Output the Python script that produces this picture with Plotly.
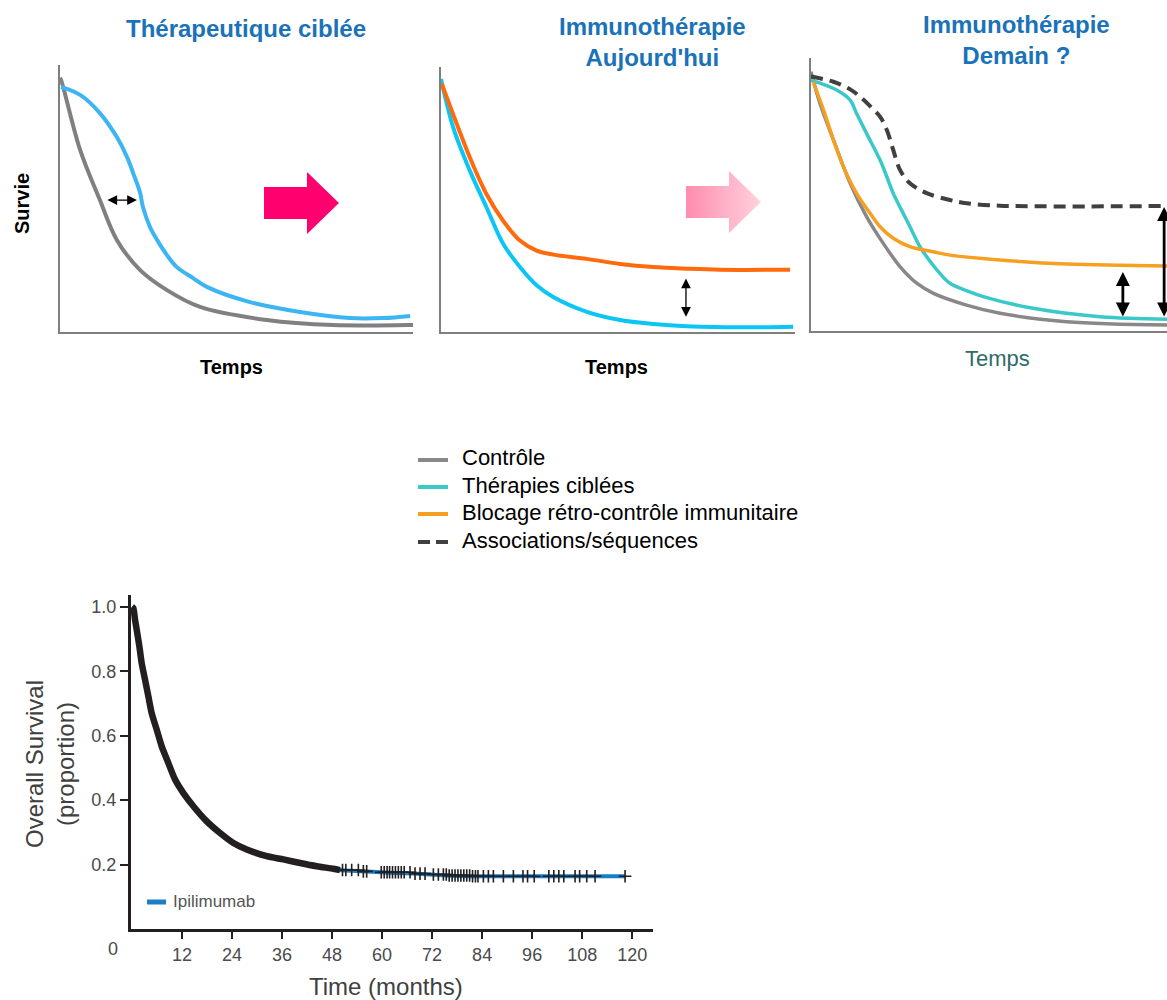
import numpy as np
import plotly.graph_objects as go

W, H = 1167, 1000

# ---------------- data ----------------
# Panel 1 : Thérapeutique ciblée  (time 0..10, survival 0..1)
p1_ctrl_t = [0.0, 0.03, 0.57, 1.13, 1.61, 2.27, 3.03, 3.97, 5.86, 7.73, 9.86, 10.0]
p1_ctrl_s = [0.951, 0.944, 0.682, 0.494, 0.345, 0.232, 0.157, 0.094, 0.045, 0.026, 0.026, 0.026]
p1_tgt_t = [0.03, 0.57, 1.13, 1.61, 1.90, 2.07, 2.27, 2.35, 2.55, 2.75, 3.03, 3.31, 3.77, 4.16, 5.38, 6.80, 8.22, 9.15, 9.92]
p1_tgt_s = [0.918, 0.888, 0.820, 0.730, 0.655, 0.596, 0.521, 0.468, 0.393, 0.345, 0.288, 0.243, 0.202, 0.169, 0.112, 0.075, 0.052, 0.052, 0.060]

# Panel 2 : Immunothérapie aujourd'hui
p2_ici_t = [0.02, 0.35, 0.82, 1.29, 1.76, 2.23, 2.70, 3.17, 4.12, 5.06, 6.00, 6.94, 7.88, 9.86]
p2_ici_s = [0.937, 0.819, 0.657, 0.519, 0.419, 0.345, 0.307, 0.292, 0.276, 0.257, 0.245, 0.239, 0.235, 0.235]
p2_ctl_t = [0.0, 0.35, 0.82, 1.29, 1.76, 2.23, 2.70, 3.17, 4.12, 5.06, 6.00, 6.94, 8.82, 9.95]
p2_ctl_s = [0.955, 0.769, 0.607, 0.469, 0.332, 0.245, 0.176, 0.132, 0.076, 0.045, 0.030, 0.022, 0.018, 0.020]

# Panel 3 : Immunothérapie demain ?
p3_ctrl_t = [0.0, 0.25, 0.63, 1.10, 1.56, 2.03, 2.50, 2.97, 3.44, 4.37, 5.31, 7.18, 10.0]
p3_ctrl_s = [0.950, 0.834, 0.700, 0.541, 0.419, 0.321, 0.236, 0.175, 0.138, 0.095, 0.065, 0.034, 0.022]
p3_tgt_t = [0.0, 0.72, 1.10, 1.28, 1.56, 1.94, 2.13, 2.31, 2.59, 2.78, 3.06, 3.25, 3.62, 3.90, 4.37, 4.84, 6.24, 8.12, 10.0]
p3_tgt_s = [0.919, 0.883, 0.846, 0.797, 0.724, 0.626, 0.565, 0.504, 0.431, 0.382, 0.309, 0.272, 0.211, 0.175, 0.148, 0.126, 0.083, 0.052, 0.043]
p3_ici_t = [0.06, 0.35, 0.63, 0.91, 1.28, 1.66, 1.94, 2.31, 2.78, 3.44, 3.90, 5.31, 7.18, 10.0]
p3_ici_s = [0.913, 0.810, 0.700, 0.602, 0.504, 0.431, 0.382, 0.340, 0.309, 0.290, 0.278, 0.260, 0.245, 0.238]
p3_comb_t = [0.0, 0.63, 1.10, 1.38, 1.66, 1.94, 2.13, 2.31, 2.50, 2.78, 3.25, 3.90, 4.37, 5.31, 10.0]
p3_comb_s = [0.932, 0.913, 0.885, 0.858, 0.824, 0.785, 0.736, 0.663, 0.590, 0.541, 0.505, 0.480, 0.468, 0.459, 0.458]

legend_labels = ["Contrôle", "Thérapies ciblées", "Blocage rétro-contrôle immunitaire", "Associations/séquences"]

# Bottom : Ipilimumab Kaplan-Meier
km_t = [0.0, 0.32, 0.72, 1.12, 1.76, 2.32, 3.12, 3.92, 4.72, 5.92, 7.12, 8.72, 10.32, 12.32, 14.72,
        17.92, 21.12, 24.32, 27.52, 32.32, 36.32, 40.32, 44.32, 48.32, 49.9, 55.5, 59.5, 67.5, 71.5,
        75.5, 81.1, 118.3]
km_s = [1.0, 0.996, 0.960, 0.929, 0.877, 0.825, 0.774, 0.722, 0.670, 0.619, 0.567, 0.515, 0.464, 0.422, 0.381,
        0.334, 0.298, 0.267, 0.247, 0.226, 0.216, 0.205, 0.195, 0.187, 0.183, 0.179, 0.176, 0.172, 0.169,
        0.166, 0.164, 0.164]
censor_t = [50.5, 51.3, 52.7, 54.3, 55.5, 56.3, 59.8, 60.5, 61.2, 61.8, 62.5, 63.2, 63.9, 64.6, 65.3,
            66.7, 67.9, 69.1, 70.3, 72.3, 73.5, 74.7, 75.4, 76.1, 76.8, 77.5, 78.2, 78.9, 79.6, 80.3,
            81.0, 81.7, 82.4, 83.0, 84.3, 85.5, 86.7, 89.1, 91.5, 93.8, 94.9, 96.5, 100.0, 101.2, 102.4,
            103.6, 106.3, 107.4, 109.1, 111.1, 118.3]
x_ticks = [12, 24, 36, 48, 60, 72, 84, 96, 108, 120]
y_ticks = [0.2, 0.4, 0.6, 0.8, 1.0]

# ---------------- styling ----------------
FONT = "Liberation Sans, Arial, sans-serif"
TITLE_BLUE = "#1a72b8"
GRAY = "#808080"
KM_BLUE = "#1b7dc3"
KM_BLACK = "#231f20"


def px_x(p):
    return p / W


def px_y(p):
    return 1 - p / H


fig = go.Figure()

# Panel 1
fig.add_trace(go.Scatter(x=p1_ctrl_t, y=p1_ctrl_s, mode="lines", line=dict(color=GRAY, width=4, shape="spline"),
                         xaxis="x", yaxis="y", showlegend=False, hoverinfo="skip"))
fig.add_trace(go.Scatter(x=p1_tgt_t, y=p1_tgt_s, mode="lines", line=dict(color="#3db5f3", width=4, shape="spline"),
                         xaxis="x", yaxis="y", showlegend=False, hoverinfo="skip"))
# Panel 2
fig.add_trace(go.Scatter(x=p2_ctl_t, y=p2_ctl_s, mode="lines", line=dict(color="#0bc6f5", width=4, shape="spline"),
                         xaxis="x2", yaxis="y2", showlegend=False, hoverinfo="skip"))
fig.add_trace(go.Scatter(x=p2_ici_t, y=p2_ici_s, mode="lines", line=dict(color="#ff6a0d", width=4, shape="spline"),
                         xaxis="x2", yaxis="y2", showlegend=False, hoverinfo="skip"))
# Panel 3
fig.add_trace(go.Scatter(x=p3_ctrl_t, y=p3_ctrl_s, mode="lines", line=dict(color="#888888", width=3.5, shape="spline"),
                         xaxis="x3", yaxis="y3", showlegend=False, hoverinfo="skip"))
fig.add_trace(go.Scatter(x=p3_tgt_t, y=p3_tgt_s, mode="lines", line=dict(color="#3ac8c8", width=3.5, shape="spline"),
                         xaxis="x3", yaxis="y3", showlegend=False, hoverinfo="skip"))
fig.add_trace(go.Scatter(x=p3_ici_t, y=p3_ici_s, mode="lines", line=dict(color="#f5a020", width=3.5, shape="spline"),
                         xaxis="x3", yaxis="y3", showlegend=False, hoverinfo="skip"))
fig.add_trace(go.Scatter(x=p3_comb_t, y=p3_comb_s, mode="lines",
                         line=dict(color="#404040", width=4, shape="spline", dash="12px,7px"),
                         xaxis="x3", yaxis="y3", showlegend=False, hoverinfo="skip"))

# Bottom KM
fig.add_trace(go.Scatter(x=km_t, y=km_s, mode="lines", line=dict(color=KM_BLUE, width=4, shape="spline", smoothing=0.6),
                         xaxis="x4", yaxis="y4", showlegend=False, hoverinfo="skip"))
band_t = [t for t in km_t if t <= 49.9]
band_s = km_s[:len(band_t)]
fig.add_trace(go.Scatter(x=band_t, y=band_s, mode="lines", line=dict(color=KM_BLACK, width=6.5, shape="spline", smoothing=0.6),
                         xaxis="x4", yaxis="y4", showlegend=False, hoverinfo="skip"))
km_t_arr = np.array(km_t)
km_s_arr = np.array(km_s)
idx = np.searchsorted(km_t_arr, np.array(censor_t), side="right") - 1
censor_s = km_s_arr[idx]
fig.add_trace(go.Scatter(x=censor_t, y=censor_s, mode="markers",
                         marker=dict(symbol="cross-thin", size=9, line=dict(color=KM_BLACK, width=1.6)),
                         xaxis="x4", yaxis="y4", showlegend=False, hoverinfo="skip"))

# Pink block arrows on a full-page overlay axis (pixel units)
arrow1_x = [264, 307, 307, 339, 307, 307, 264, 264]
arrow1_y = [187, 187, 172, 203, 234, 219, 219, 187]
arrow2_x = [686, 729, 729, 761, 729, 729, 686, 686]
arrow2_y = [186, 186, 171, 202, 233, 218, 218, 186]
fig.add_trace(go.Scatter(x=arrow1_x, y=arrow1_y, mode="lines", fill="toself", fillcolor="#ff006e",
                         line=dict(width=0, color="#ff006e"), xaxis="x5", yaxis="y5",
                         showlegend=False, hoverinfo="skip"))
fig.add_trace(go.Scatter(x=arrow2_x, y=arrow2_y, mode="lines", fill="toself",
                         fillgradient=dict(type="horizontal", colorscale=[[0, "#ff8caf"], [1, "#ffd2dd"]]),
                         line=dict(width=0, color="rgba(0,0,0,0)"), xaxis="x5", yaxis="y5",
                         showlegend=False, hoverinfo="skip"))

top_axis = dict(showline=True, linecolor="#7f7f7f", linewidth=1.5, showticklabels=False, ticks="",
                showgrid=False, zeroline=False, fixedrange=True)

fig.update_layout(
    width=W, height=H, margin=dict(l=0, r=0, t=0, b=0),
    paper_bgcolor="white", plot_bgcolor="rgba(0,0,0,0)",
    font=dict(family=FONT), hovermode=False, showlegend=False,
    xaxis=dict(top_axis, domain=[px_x(60), px_x(413)], range=[0, 10], anchor="y"),
    yaxis=dict(top_axis, domain=[px_y(332), px_y(65)], range=[0, 1], anchor="x"),
    xaxis2=dict(top_axis, domain=[px_x(441), px_x(795)], range=[0, 10], anchor="y2"),
    yaxis2=dict(top_axis, domain=[px_y(332), px_y(67)], range=[0, 1], anchor="x2"),
    xaxis3=dict(top_axis, domain=[px_x(811), 1.0], range=[0, 10], anchor="y3"),
    yaxis3=dict(top_axis, domain=[px_y(331), px_y(58)], range=[0, 1], anchor="x3"),
    xaxis4=dict(domain=[px_x(131), px_x(653)], range=[-0.25, 125], anchor="y4", showline=True,
                linecolor=KM_BLACK, linewidth=3, ticks="outside", ticklen=7, tickwidth=2, tickcolor=KM_BLACK,
                tickvals=x_ticks, ticktext=[str(v) for v in x_ticks], showgrid=False, zeroline=False,
                tickfont=dict(size=18, color="#4a4a4a", family=FONT), fixedrange=True),
    yaxis4=dict(domain=[px_y(929), px_y(595)], range=[0, 1.037], anchor="x4", showline=True,
                linecolor=KM_BLACK, linewidth=3, ticks="outside", ticklen=8, tickwidth=2, tickcolor=KM_BLACK,
                tickvals=y_ticks, ticktext=[f"{v:.1f}" for v in y_ticks], showgrid=False, zeroline=False,
                tickfont=dict(size=18, color="#4a4a4a", family=FONT), fixedrange=True),
    xaxis5=dict(domain=[0, 1], range=[0, W], visible=False, fixedrange=True, anchor="y5"),
    yaxis5=dict(domain=[0, 1], range=[H, 0], visible=False, fixedrange=True, anchor="x5"),
)

ann = []


def text(x, y, s, size, color="black", xanchor="center", angle=0):
    ann.append(dict(x=px_x(x), y=px_y(y), xref="paper", yref="paper", text=s, showarrow=False,
                    xanchor=xanchor, yanchor="middle", textangle=angle,
                    font=dict(size=size, color=color, family=FONT)))


text(246, 28, "<b>Thérapeutique ciblée</b>", 24, TITLE_BLUE)
text(652, 42, "<b>Immunothérapie<br>Aujourd'hui</b>", 24, TITLE_BLUE)
text(1016, 40, "<b>Immunothérapie<br>Demain ?</b>", 24, TITLE_BLUE)
text(22, 204, "<b>Survie</b>", 20, "black", angle=-90)
text(231, 367, "<b>Temps</b>", 20, "black")
text(616, 367, "<b>Temps</b>", 20, "black")
text(997, 358, "Temps", 22, "#2e6b6b")

# legend (top)
leg_rows = [458, 485, 512, 540]
leg_colors = ["#888888", "#3ac8c8", "#f5a020", "#404040"]
leg_dash = ["solid", "solid", "solid", "12px,6px"]
shapes = []
for lab, yy, col, d in zip(legend_labels, leg_rows, leg_colors, leg_dash):
    shapes.append(dict(type="line", xref="paper", yref="paper", x0=px_x(418), x1=px_x(448),
                       y0=px_y(yy + 2), y1=px_y(yy + 2), line=dict(color=col, width=4, dash=d)))
    text(460, yy, lab, 22, "black", xanchor="left")

# bottom plot texts
text(50, 764, "Overall Survival<br>(proportion)", 24, "#404040", angle=-90)
text(386, 986, "Time (months)", 24, "#404040")
text(113, 949, "0", 18, "#4a4a4a")
shapes.append(dict(type="line", xref="paper", yref="paper", x0=px_x(147), x1=px_x(166),
                   y0=px_y(902), y1=px_y(902), line=dict(color=KM_BLUE, width=5)))
text(171, 901, "Ipilimumab", 17, "#555555", xanchor="left")

# double-headed arrows
def darrow(xref, yref, x0, y0, x1, y1, width, size):
    ann.append(dict(x=x1, y=y1, ax=x0, ay=y0, xref=xref, yref=yref, axref=xref, ayref=yref,
                    text="", showarrow=True, arrowhead=2, startarrowhead=2, arrowside="end+start",
                    arrowsize=size, startarrowsize=size, arrowwidth=width, arrowcolor="black",
                    standoff=0, startstandoff=0))


darrow("x", "y", 1.30, 0.494, 2.18, 0.494, 1.3, 1.5)
darrow("x2", "y2", 6.92, 0.052, 6.92, 0.202, 1.3, 1.5)
darrow("x3", "y3", 8.76, 0.048, 8.76, 0.216, 2.8, 1.0)
darrow("x3", "y3", 9.92, 0.048, 9.92, 0.454, 2.8, 1.0)

fig.update_layout(annotations=ann, shapes=shapes)
fig.write_html("out.html", config={"displayModeBar": False},
               post_script="document.body.style.margin='0px';")
